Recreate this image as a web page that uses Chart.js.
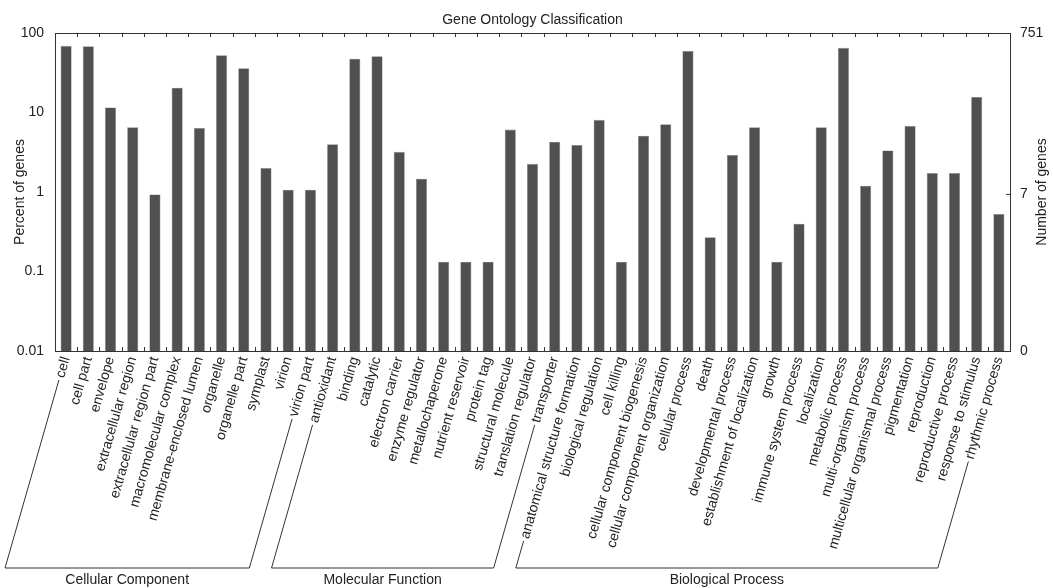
<!DOCTYPE html>
<html>
<head>
<meta charset="utf-8">
<title>Gene Ontology Classification</title>
<script src="https://cdn.jsdelivr.net/npm/chart.js@4.4.1/dist/chart.umd.min.js"></script>
<style>
  html, body { margin: 0; padding: 0; background: #fff; }
  #wrap { width: 1053px; height: 588px; }
</style>
</head>
<body>
<div id="wrap"><canvas id="goChart" width="1053" height="588"></canvas></div>
<script>
// GO terms, in plotting order
const categories = [
    'cell', 'cell part', 'envelope', 'extracellular region', 'extracellular region part',
    'macromolecular complex', 'membrane-enclosed lumen', 'organelle', 'organelle part',
    'symplast', 'virion', 'virion part',
    'antioxidant', 'binding', 'catalytic', 'electron carrier', 'enzyme regulator',
    'metallochaperone', 'nutrient reservoir', 'protein tag', 'structural molecule',
    'translation regulator', 'transporter',
    'anatomical structure formation', 'biological regulation', 'cell killing',
    'cellular component biogenesis', 'cellular component organization', 'cellular process',
    'death', 'developmental process', 'establishment of localization', 'growth',
    'immune system process', 'localization', 'metabolic process', 'multi-organism process',
    'multicellular organismal process', 'pigmentation', 'reproduction',
    'reproductive process', 'response to stimulus', 'rhythmic process'
];

// percent of genes
const percentGenes = [
    69, 68, 11.6, 6.5, 0.93, 20.5, 6.4, 52.5, 36, 2.0, 1.07, 1.07,
    4.0, 47.5, 51, 3.2, 1.47, 0.133, 0.133, 0.133, 6.1, 2.26, 4.3,
    3.9, 8.1, 0.133, 5.1, 7.1, 59.5, 0.27, 2.93, 6.5, 0.133, 0.4, 6.5,
    65, 1.2, 3.33, 6.8, 1.73, 1.73, 15.7, 0.53
];

// ontology groups: name and number of terms
const groupNames = ['Cellular Component', 'Molecular Function', 'Biological Process'];
const groupSizes = [12, 11, 20];

// axis ticks
const percentTicks = [0.01, 0.1, 1, 10, 100];
const totalGenes = 751;
const geneTicks = [0, 7, 751];

const FONT = '"Liberation Sans", Arial, Helvetica, sans-serif';
const INK = '#222';
const ROT = 74;

// Frame, tick marks, titles and group brackets
const goDecor = {
    id: 'goDecor',
    afterDraw(chart) {
        const ctx = chart.ctx;
        const area = chart.chartArea;
        const x = chart.scales.x;
        const n = categories.length;
        ctx.save();

        // frame
        ctx.strokeStyle = '#333';
        ctx.lineWidth = 1;
        ctx.strokeRect(Math.round(area.left) + 0.5, Math.round(area.top) + 0.5,
            Math.round(area.right - area.left), Math.round(area.bottom - area.top));

        // inward ticks at category boundaries
        const step = (area.right - area.left) / n;
        ctx.beginPath();
        for (let i = 1; i < n; i++) {
            const px = Math.round(area.left + step * i) + 0.5;
            ctx.moveTo(px, area.top); ctx.lineTo(px, area.top + 4);
            ctx.moveTo(px, area.bottom); ctx.lineTo(px, area.bottom - 4);
        }
        const y7 = chart.scales.y2.getPixelForValue(7 / totalGenes * 100);
        ctx.moveTo(area.right, y7); ctx.lineTo(area.right - 4, y7);
        ctx.stroke();

        // titles
        ctx.fillStyle = INK;
        ctx.font = '14px ' + FONT;
        ctx.textAlign = 'center';
        ctx.textBaseline = 'middle';
        ctx.fillText('Gene Ontology Classification', (area.left + area.right) / 2, 20);
        ctx.save();
        ctx.translate(20, (area.top + area.bottom) / 2);
        ctx.rotate(-Math.PI / 2);
        ctx.fillText('Percent of genes', 0, 0);
        ctx.restore();
        ctx.save();
        ctx.translate(1042, (area.top + area.bottom) / 2);
        ctx.rotate(-Math.PI / 2);
        ctx.fillText('Number of genes', 0, 0);
        ctx.restore();

        // group brackets following the label direction
        const a = ROT * Math.PI / 180;
        const baseY = 568;
        const anchorY = area.bottom + 4;
        ctx.font = '14px ' + FONT;
        const legOf = (i) => {
            const px = x.getPixelForValue(i);
            const w = ctx.measureText(categories[i]).width + 5;
            return {
                x0: px - Math.cos(a) * w, y0: anchorY + Math.sin(a) * w,
                x1: px - (baseY - anchorY) / Math.tan(a), y1: baseY
            };
        };
        ctx.strokeStyle = '#333';
        let start = 0;
        groupSizes.forEach((size, g) => {
            const l = legOf(start);
            const r = legOf(start + size - 1);
            ctx.beginPath();
            ctx.moveTo(l.x0, l.y0);
            ctx.lineTo(l.x1, l.y1);
            ctx.lineTo(r.x1, r.y1);
            ctx.lineTo(r.x0, r.y0);
            ctx.stroke();
            ctx.fillStyle = INK;
            ctx.textAlign = 'center';
            ctx.fillText(groupNames[g], (l.x1 + r.x1) / 2, 580);
            start += size;
        });
        ctx.restore();
    }
};

new Chart(document.getElementById('goChart'), {
    type: 'bar',
    data: {
        labels: categories,
        datasets: [{
            data: percentGenes,
            backgroundColor: '#505050',
            borderColor: '#8a8a8a',
            borderWidth: 0.6,
            barPercentage: 0.5,
            categoryPercentage: 1.0,
            yAxisID: 'y'
        }]
    },
    options: {
        responsive: false,
        animation: false,
        layout: { padding: { top: 33, left: 0, right: 0, bottom: 0 } },
        plugins: { legend: { display: false }, tooltip: { enabled: false }, title: { display: false } },
        scales: {
            x: {
                grid: { display: false, drawTicks: false },
                border: { display: false },
                ticks: {
                    autoSkip: false, minRotation: ROT, maxRotation: ROT,
                    padding: 4, color: INK, font: { family: FONT, size: 14 }
                },
                afterFit(scale) { scale.height = 588 - 351; }
            },
            y: {
                type: 'logarithmic', position: 'left', min: 0.01, max: 100,
                grid: { display: false },
                border: { display: false },
                afterBuildTicks(scale) { scale.ticks = percentTicks.map(v => ({ value: v })); },
                ticks: {
                    padding: 3, color: INK, font: { family: FONT, size: 14 },
                    callback: (v) => String(v)
                },
                afterFit(scale) { scale.width = 55; }
            },
            y2: {
                type: 'logarithmic', position: 'right', min: 0.01, max: 100,
                grid: { display: false },
                border: { display: false },
                afterBuildTicks(scale) {
                    scale.ticks = geneTicks.map(c => ({ value: c === 0 ? 0.01 : c / totalGenes * 100 }));
                },
                ticks: {
                    padding: 2, color: INK, font: { family: FONT, size: 14 },
                    callback: (v, i) => String(geneTicks[i])
                },
                afterFit(scale) { scale.width = 1053 - 1010; }
            }
        }
    },
    plugins: [goDecor]
});
</script>
</body>
</html>
